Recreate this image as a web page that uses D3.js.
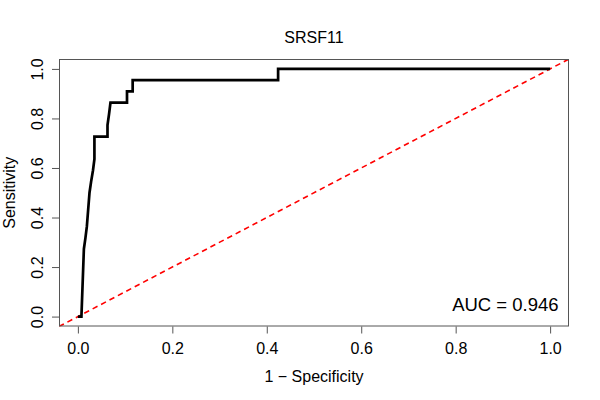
<!DOCTYPE html>
<html>
<head>
<meta charset="utf-8">
<script src="https://cdn.jsdelivr.net/npm/d3@7"></script>
<style>
  body { margin: 0; background: #fff; }
  svg text { font-family: "Liberation Sans", Arial, Helvetica, sans-serif; fill: #000; }
</style>
</head>
<body>
<svg id="roc" width="600" height="400"></svg>
<script>
// ROC curve vertices (1 - specificity, sensitivity)
const fpr = [0, 0.0075, 0.0127, 0.016, 0.019, 0.0246, 0.028, 0.032, 0.035, 0.035,
             0.0627, 0.0627, 0.066, 0.069, 0.104, 0.104, 0.116, 0.116, 0.424, 0.424, 1.0];
const tpr = [0, 0, 0.273, 0.318, 0.364, 0.5, 0.545, 0.591, 0.636, 0.727,
             0.727, 0.773, 0.818, 0.864, 0.864, 0.909, 0.909, 0.955, 0.955, 1.0, 1.0];
const xTicks = [0, 0.2, 0.4, 0.6, 0.8, 1.0];
const yTicks = [0, 0.2, 0.4, 0.6, 0.8, 1.0];
const titleText = "SRSF11";
const aucText = "AUC = 0.946";

const svg = d3.select('#roc');
const margin = { top: 59, right: 31, bottom: 73.5, left: 59 };
const width = +svg.attr("width") - margin.left - margin.right;
const height = +svg.attr("height") - margin.top - margin.bottom;

// R style: 4% padding on both sides of the data range
const x = d3.scaleLinear().domain([-0.04, 1.04]).range([0, width]);
const y = d3.scaleLinear().domain([-0.04, 1.04]).range([height, 0]);

const g = svg.append("g")
    .attr("transform", "translate(" + margin.left + "," + margin.top + ")");

g.append("clipPath").attr("id", "plotclip")
  .append("rect").attr("width", width).attr("height", height);

// diagonal reference line
g.append("line")
    .attr("clip-path", "url(#plotclip)")
    .attr("x1", x(-0.04)).attr("y1", y(-0.04))
    .attr("x2", x(1.04)).attr("y2", y(1.04))
    .attr("stroke", "#ff0000")
    .attr("stroke-width", 1.6)
    .attr("stroke-dasharray", "5.5,4");

const pts = fpr.map((d, i) => [d, tpr[i]]);
g.append("path")
    .datum(pts)
    .attr("fill", "none")
    .attr("stroke", "#000")
    .attr("stroke-width", 2.7)
    .attr("stroke-linejoin", "miter")
    .attr("d", d3.line().x(d => x(d[0])).y(d => y(d[1])));

// box
g.append("rect")
    .attr("x", 0.5).attr("y", 0.5)
    .attr("width", width - 1).attr("height", height - 1)
    .attr("fill", "none")
    .attr("stroke", "#555")
    .attr("stroke-width", 1);

const xAxis = g.append("g")
    .attr("transform", "translate(0," + height + ")")
    .call(d3.axisBottom(x).tickValues(xTicks).tickSize(7).tickFormat(d3.format(".1f")));
xAxis.select(".domain").remove();
xAxis.selectAll(".tick line").attr("stroke", "#555");
xAxis.selectAll(".tick text")
    .attr("y", 27).attr("dy", 0)
    .style("font-size", "16px");

const yAxis = g.append("g")
    .call(d3.axisLeft(y).tickValues(yTicks).tickSize(7).tickFormat(d3.format(".1f")));
yAxis.select(".domain").remove();
yAxis.selectAll(".tick line").attr("stroke", "#555");
yAxis.selectAll(".tick text")
    .attr("x", 0).attr("dy", 0)
    .attr("text-anchor", "middle")
    .attr("transform", "translate(-16.5,0) rotate(-90)")
    .style("font-size", "16px");

svg.append("text")
    .attr("x", margin.left + width / 2)
    .attr("y", 42.7)
    .attr("text-anchor", "middle")
    .style("font-size", "16px")
    .text(titleText);

svg.append("text")
    .attr("x", margin.left + width / 2)
    .attr("y", 382)
    .attr("text-anchor", "middle")
    .style("font-size", "16px")
    .text("1 \u2212 Specificity");

svg.append("text")
    .attr("transform", "translate(15," + (margin.top + height / 2) + ") rotate(-90)")
    .attr("text-anchor", "middle")
    .style("font-size", "16px")
    .text("Sensitivity");

g.append("text")
    .attr("x", x(1.018))
    .attr("y", y(0.023))
    .attr("text-anchor", "end")
    .style("font-size", "18.5px")
    .text(aucText);
</script>
</body>
</html>
